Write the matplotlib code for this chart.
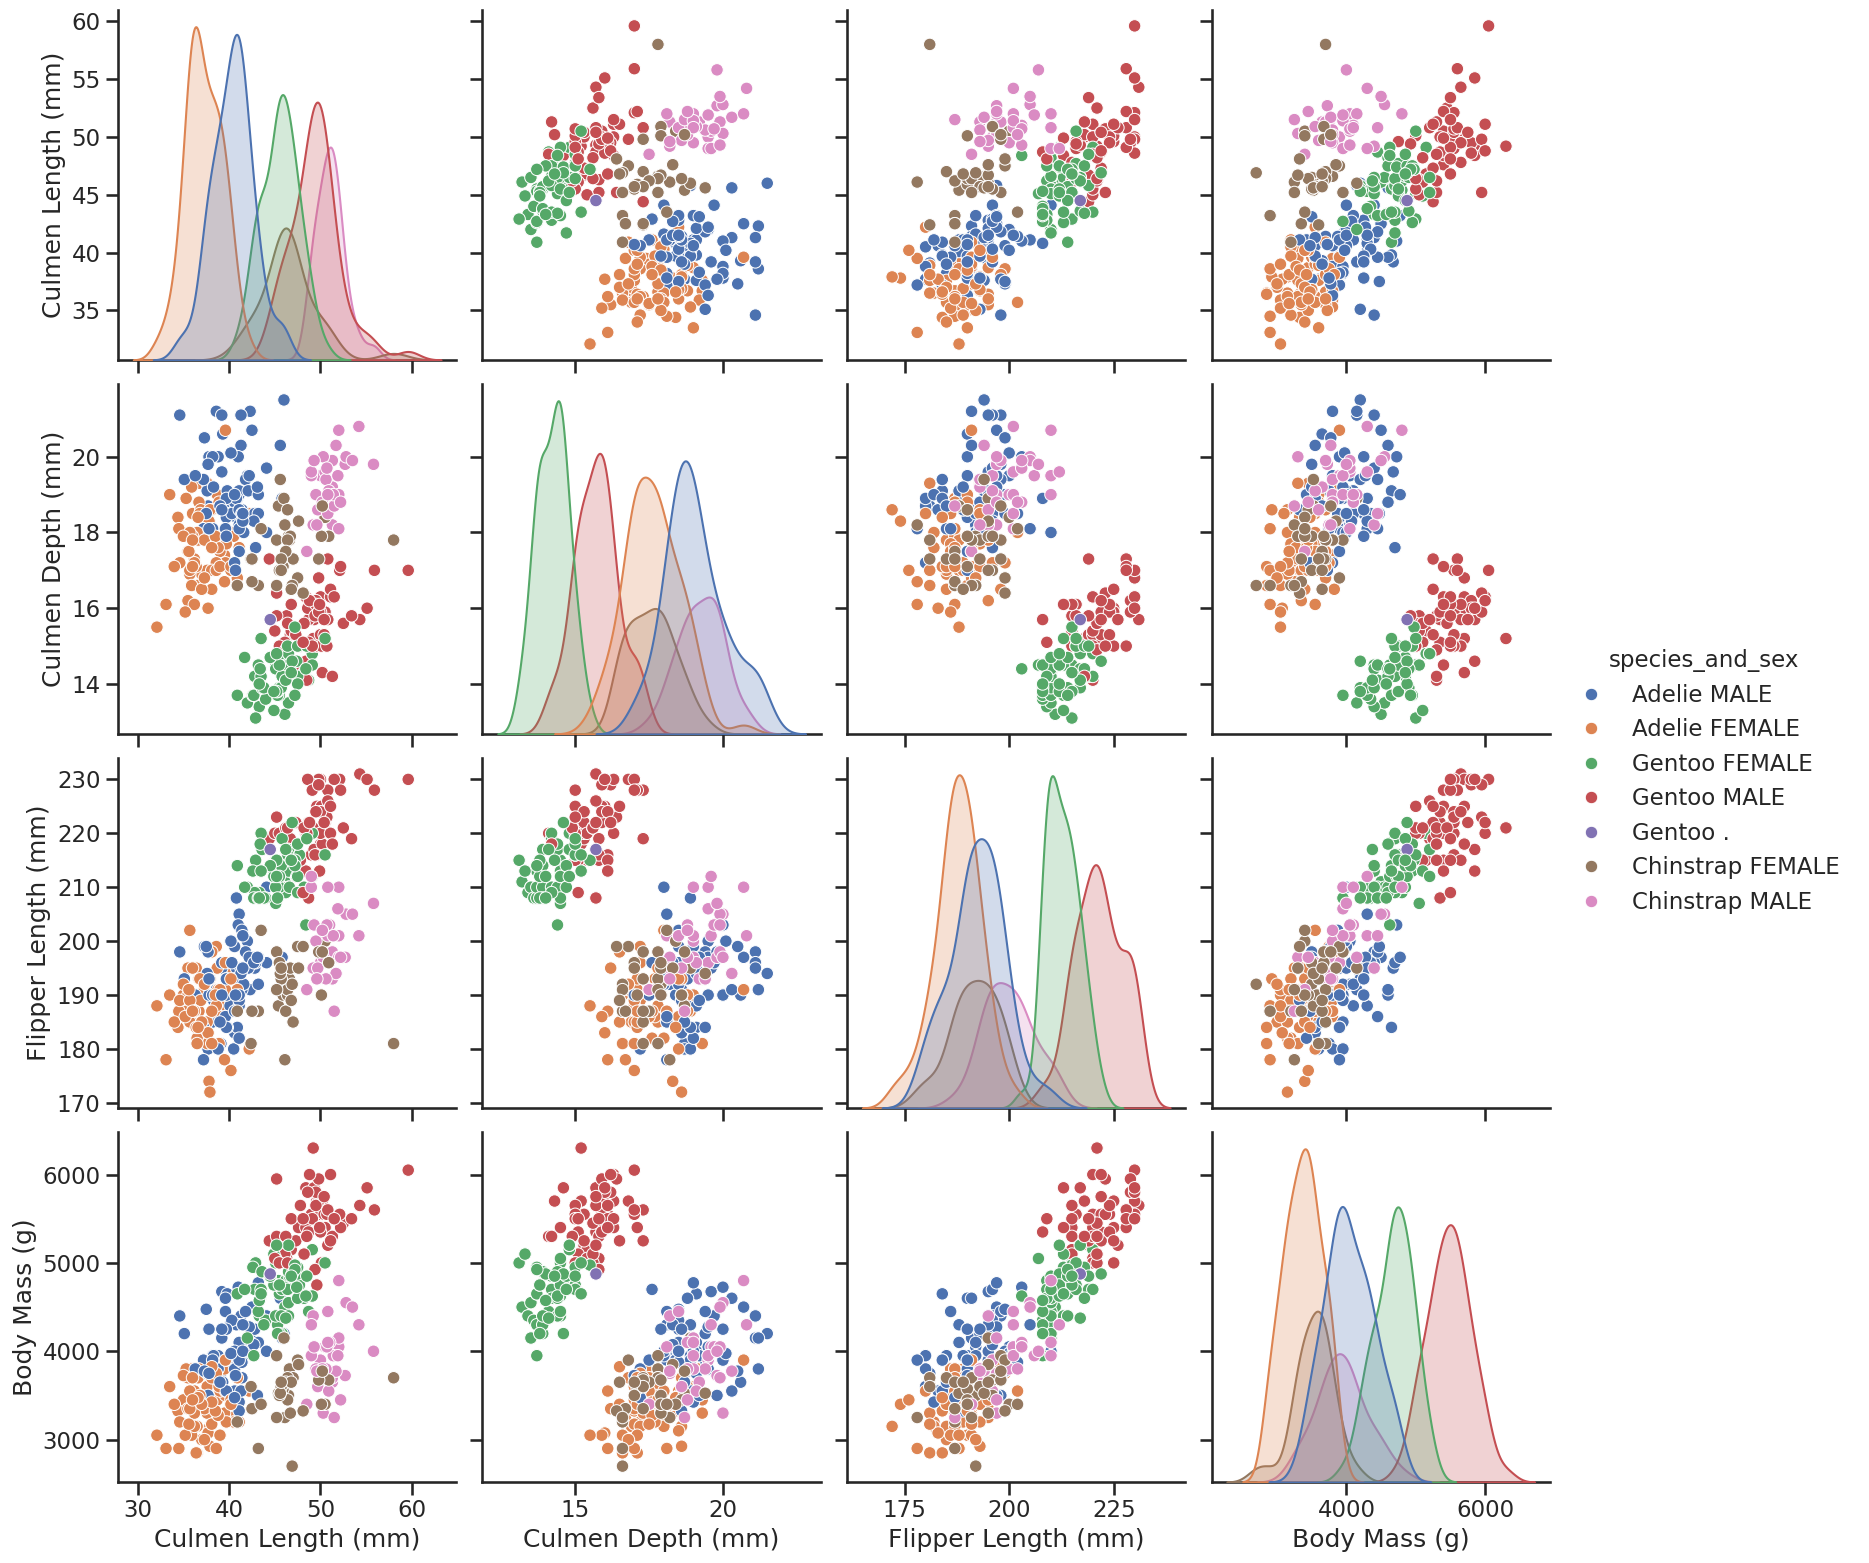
import pandas as pd
import seaborn as sns
import matplotlib
matplotlib.use("Agg")
import matplotlib.pyplot as plt

# Palmer penguins, rows with a recorded sex, in file order
adelie_length = [
    39.1, 39.5, 40.3, 36.7, 39.3, 38.9, 39.2, 41.1, 38.6, 34.6,
    36.6, 38.7, 42.5, 34.4, 46.0, 37.8, 37.7, 35.9, 38.2, 38.8,
    35.3, 40.6, 40.5, 37.9, 40.5, 39.5, 37.2, 39.5, 40.9, 36.4,
    39.2, 38.8, 42.2, 37.6, 39.8, 36.5, 40.8, 36.0, 44.1, 37.0,
    39.6, 41.1, 36.0, 42.3, 39.6, 40.1, 35.0, 42.0, 34.5, 41.4,
    39.0, 40.6, 36.5, 37.6, 35.7, 41.3, 37.6, 41.1, 36.4, 41.6,
    35.5, 41.1, 35.9, 41.8, 33.5, 39.7, 39.6, 45.8, 35.5, 42.8,
    40.9, 37.2, 36.2, 42.1, 34.6, 42.9, 36.7, 35.1, 37.3, 41.3,
    36.3, 36.9, 38.3, 38.9, 35.7, 41.1, 34.0, 39.6, 36.2, 40.8,
    38.1, 40.3, 33.1, 43.2, 35.0, 41.0, 37.7, 37.8, 37.9, 39.7,
    38.6, 38.2, 38.1, 43.2, 38.1, 45.6, 39.7, 42.2, 39.6, 42.7,
    38.6, 37.3, 35.7, 41.1, 36.2, 37.7, 40.2, 41.4, 35.2, 40.6,
    38.8, 41.5, 39.0, 44.1, 38.5, 43.1, 36.8, 37.5, 38.1, 41.1,
    35.6, 40.2, 37.0, 39.7, 40.2, 40.6, 32.1, 40.7, 37.3, 39.0,
    39.2, 36.6, 36.0, 37.8, 36.0, 41.5]
adelie_depth = [
    18.7, 17.4, 18.0, 19.3, 20.6, 17.8, 19.6, 17.6, 21.2, 21.1,
    17.8, 19.0, 20.7, 18.4, 21.5, 18.3, 18.7, 19.2, 18.1, 17.2,
    18.9, 18.6, 17.9, 18.6, 18.9, 16.7, 18.1, 17.8, 18.9, 17.0,
    21.1, 20.0, 18.5, 19.3, 19.1, 18.0, 18.4, 18.5, 19.7, 16.9,
    18.8, 19.0, 17.9, 21.2, 17.7, 18.9, 17.9, 19.5, 18.1, 18.6,
    17.5, 18.8, 16.6, 19.1, 16.9, 21.1, 17.0, 18.2, 17.1, 18.0,
    16.2, 19.1, 16.6, 19.4, 19.0, 18.4, 17.2, 18.9, 17.5, 18.5,
    16.8, 19.4, 16.1, 19.1, 17.2, 17.6, 18.8, 19.4, 17.8, 20.3,
    19.5, 18.6, 19.2, 18.8, 18.0, 18.1, 17.1, 18.1, 17.3, 18.9,
    18.6, 18.5, 16.1, 18.5, 17.9, 20.0, 16.0, 20.0, 18.6, 18.9,
    17.2, 20.0, 17.0, 19.0, 16.5, 20.3, 17.7, 19.5, 20.7, 18.3,
    17.0, 20.5, 17.0, 18.6, 17.2, 19.8, 17.0, 18.5, 15.9, 19.0,
    17.6, 18.3, 17.1, 18.0, 17.9, 19.2, 18.5, 18.5, 17.6, 17.5,
    17.5, 20.1, 16.5, 17.9, 17.1, 17.2, 15.5, 17.0, 16.8, 18.7,
    18.6, 18.4, 17.8, 18.1, 17.1, 18.5]
adelie_flipper = [
    181, 186, 195, 193, 190, 181, 195, 182, 191, 198,
    185, 195, 197, 184, 194, 174, 180, 189, 185, 180,
    187, 183, 187, 172, 180, 178, 178, 188, 184, 195,
    196, 190, 180, 181, 184, 182, 195, 186, 196, 185,
    190, 182, 190, 191, 186, 188, 190, 200, 187, 191,
    186, 193, 181, 194, 185, 195, 185, 192, 184, 192,
    195, 188, 190, 198, 190, 190, 196, 197, 190, 195,
    191, 184, 187, 195, 189, 196, 187, 193, 191, 194,
    190, 189, 189, 190, 202, 205, 185, 186, 187, 208,
    190, 196, 178, 192, 192, 203, 183, 190, 193, 184,
    199, 190, 181, 197, 198, 191, 193, 197, 191, 196,
    188, 199, 189, 189, 187, 198, 176, 202, 186, 199,
    191, 195, 191, 210, 190, 197, 193, 199, 187, 190,
    191, 200, 185, 193, 193, 187, 188, 190, 192, 185,
    190, 184, 195, 193, 187, 201]
adelie_mass = [
    3750, 3800, 3250, 3450, 3650, 3625, 4675, 3200, 3800, 4400,
    3700, 3450, 4500, 3325, 4200, 3400, 3600, 3800, 3950, 3800,
    3800, 3550, 3200, 3150, 3950, 3250, 3900, 3300, 3900, 3325,
    4150, 3950, 3550, 3300, 4650, 3150, 3900, 3100, 4400, 3000,
    4600, 3425, 3450, 4150, 3500, 4300, 3450, 4050, 2900, 3700,
    3550, 3800, 2850, 3750, 3150, 4400, 3600, 4050, 2850, 3950,
    3350, 4100, 3050, 4450, 3600, 3900, 3550, 4150, 3700, 4250,
    3700, 3900, 3550, 4000, 3200, 4700, 3800, 4200, 3350, 3550,
    3800, 3500, 3950, 3600, 3550, 4300, 3400, 4450, 3300, 4300,
    3700, 4350, 2900, 4100, 3725, 4725, 3075, 4250, 2925, 3550,
    3750, 3900, 3175, 4775, 3825, 4600, 3200, 4275, 3900, 4075,
    2900, 3775, 3350, 3325, 3150, 3500, 3450, 3875, 3050, 4000,
    3275, 4300, 3050, 4000, 3325, 3500, 3500, 4475, 3425, 3900,
    3175, 3975, 3400, 4250, 3400, 3475, 3050, 3725, 3000, 3650,
    4250, 3475, 3450, 3750, 3700, 4000]
adelie_sex = ("MFFFMFMFMM" "FFMFMFMFMM" "FMFFMFMFMF" "MMFFMFMFMF"
              "MMFMFMFMFM" "FMFMFMFMFM" "FMFMFMFMFM" "FMFMFMFMFM"
              "MFMFFMFMFM" "FMFMFMFMFM" "FMFMFMFMFM" "FMFMFMFMFM"
              "FMFMFMFMFM" "FMFMFMFMFM" "MFFMFM")

gentoo_length = [
    46.1, 50.0, 48.7, 50.0, 47.6, 46.5, 45.4, 46.7, 43.3, 46.8,
    40.9, 49.0, 45.5, 48.4, 45.8, 49.3, 42.0, 49.2, 46.2, 48.7,
    50.2, 45.1, 46.5, 46.3, 42.9, 46.1, 47.8, 48.2, 50.0, 47.3,
    42.8, 45.1, 59.6, 49.1, 48.4, 42.6, 44.4, 44.0, 48.7, 42.7,
    49.6, 45.3, 49.6, 50.5, 43.6, 45.5, 50.5, 44.9, 45.2, 46.6,
    48.5, 45.1, 50.1, 46.5, 45.0, 43.8, 45.5, 43.2, 50.4, 45.3,
    46.2, 45.7, 54.3, 45.8, 49.8, 49.5, 43.5, 50.7, 47.7, 46.4,
    48.2, 46.5, 46.4, 48.6, 47.5, 51.1, 45.2, 45.2, 49.1, 52.5,
    47.4, 50.0, 44.9, 50.8, 43.4, 51.3, 47.5, 52.1, 47.5, 52.2,
    45.5, 49.5, 44.5, 50.8, 49.4, 46.9, 48.4, 51.1, 48.5, 55.9,
    47.2, 49.1, 46.8, 41.7, 53.4, 43.3, 48.1, 50.5, 49.8, 43.5,
    51.5, 46.2, 55.1, 44.5, 48.8, 47.2, 46.8, 50.4, 45.2, 49.9]
gentoo_depth = [
    13.2, 16.3, 14.1, 15.2, 14.5, 13.5, 14.6, 15.3, 13.4, 15.4,
    13.7, 16.1, 13.7, 14.6, 14.6, 15.7, 13.5, 15.2, 14.5, 15.1,
    14.3, 14.5, 14.5, 15.8, 13.1, 15.1, 15.0, 14.3, 15.3, 15.3,
    14.2, 14.5, 17.0, 14.8, 16.3, 13.7, 17.3, 13.6, 15.7, 13.7,
    16.0, 13.7, 15.0, 15.9, 13.9, 13.9, 15.9, 13.3, 15.8, 14.2,
    14.1, 14.4, 15.0, 14.4, 15.4, 13.9, 15.0, 14.5, 15.3, 13.8,
    14.9, 13.9, 15.7, 14.2, 16.8, 16.2, 14.2, 15.0, 15.0, 15.6,
    15.6, 14.8, 15.0, 16.0, 14.2, 16.3, 13.8, 16.4, 14.5, 15.6,
    14.6, 15.9, 13.8, 17.3, 14.4, 14.2, 14.0, 17.0, 15.0, 17.1,
    14.5, 16.1, 14.7, 15.7, 15.8, 14.6, 14.4, 16.5, 15.0, 17.0,
    15.5, 15.0, 16.1, 14.7, 15.8, 14.0, 15.1, 15.2, 15.9, 15.2,
    16.3, 14.1, 16.0, 15.7, 16.2, 13.7, 14.3, 15.7, 14.8, 16.1]
gentoo_flipper = [
    211, 230, 210, 218, 215, 210, 211, 219, 209, 215,
    214, 216, 214, 213, 210, 217, 210, 221, 209, 222,
    218, 215, 213, 215, 215, 215, 215, 210, 220, 222,
    209, 207, 230, 220, 220, 213, 219, 208, 208, 208,
    225, 210, 216, 222, 217, 210, 225, 213, 215, 210,
    220, 210, 225, 217, 220, 208, 220, 208, 224, 208,
    221, 214, 231, 219, 230, 229, 220, 223, 216, 221,
    221, 217, 216, 230, 209, 220, 215, 223, 212, 221,
    212, 224, 212, 228, 218, 218, 212, 230, 218, 228,
    212, 224, 214, 226, 216, 222, 203, 225, 219, 228,
    215, 228, 215, 210, 219, 208, 209, 216, 229, 213,
    230, 217, 230, 217, 222, 214, 215, 222, 212, 213]
gentoo_mass = [
    4500, 5700, 4450, 5700, 5400, 4550, 4800, 5200, 4400, 5150,
    4650, 5550, 4650, 5850, 4200, 5850, 4150, 6300, 4800, 5350,
    5700, 5000, 4400, 5050, 5000, 5100, 5650, 4600, 5550, 5250,
    4700, 5050, 6050, 5150, 5400, 4950, 5250, 4350, 5350, 3950,
    5700, 4300, 4750, 5550, 4900, 4200, 5400, 5100, 5300, 4850,
    5300, 4400, 5000, 4900, 5050, 4300, 5000, 4450, 5550, 4200,
    5300, 4400, 5650, 4700, 5700, 5800, 4700, 5550, 4750, 5000,
    5100, 5200, 4700, 5800, 4600, 6000, 4750, 5950, 4625, 5450,
    4725, 5350, 4750, 5600, 4600, 5300, 4875, 5550, 4950, 5400,
    4750, 5650, 4850, 5200, 4925, 4875, 4625, 5250, 4850, 5600,
    4975, 5500, 5500, 4700, 5500, 4575, 5500, 5000, 5950, 4650,
    5500, 4375, 5850, 4875, 6000, 4925, 4850, 5750, 5200, 5400]
gentoo_sex = ("FMFMMFFMFM" "FMFMFMFMFM" "MFFMFMMFMM" "FFMFMFMFMF"
              "MFMMFFMFMF" "MFMFMFMFMF" "MFMFMMFMFM" "MFFMFMFMFM"
              "FMFMFMFMFM" "FMFMMFFMFM" "FMMFMFMFMF" "MFM.MFFMFM")

chinstrap_length = [
    46.5, 50.0, 51.3, 45.4, 52.7, 45.2, 46.1, 51.3, 46.0, 51.3,
    46.6, 51.7, 47.0, 52.0, 45.9, 50.5, 50.3, 58.0, 46.4, 49.2,
    42.4, 48.5, 43.2, 50.6, 46.7, 52.0, 50.5, 49.5, 46.4, 52.8,
    40.9, 54.2, 42.5, 51.0, 49.7, 47.5, 47.6, 52.0, 46.9, 53.5,
    49.0, 46.2, 50.9, 45.5, 50.9, 50.8, 50.1, 49.0, 51.5, 49.8,
    48.1, 51.4, 45.7, 50.7, 42.5, 52.2, 45.2, 49.3, 50.2, 45.6,
    51.9, 46.8, 45.7, 55.8, 43.5, 49.6, 50.8, 50.2]
chinstrap_depth = [
    17.9, 19.5, 19.2, 18.7, 19.8, 17.8, 18.2, 18.2, 18.9, 19.9,
    17.8, 20.3, 17.3, 18.1, 17.1, 19.6, 20.0, 17.8, 18.6, 18.2,
    17.3, 17.5, 16.6, 19.4, 17.9, 19.0, 18.4, 19.0, 17.8, 20.0,
    16.6, 20.8, 16.7, 18.8, 18.6, 16.8, 18.3, 20.7, 16.6, 19.9,
    19.5, 17.5, 19.1, 17.0, 17.9, 18.5, 17.9, 19.6, 18.7, 17.3,
    16.4, 19.0, 17.3, 19.7, 17.3, 18.8, 16.6, 19.9, 18.8, 19.4,
    19.5, 16.5, 17.0, 19.8, 18.1, 18.2, 19.0, 18.7]
chinstrap_flipper = [
    192, 196, 193, 188, 197, 198, 178, 197, 195, 198,
    193, 194, 185, 201, 190, 201, 197, 181, 190, 195,
    181, 191, 187, 193, 195, 197, 200, 200, 191, 205,
    187, 201, 187, 203, 195, 199, 195, 210, 192, 205,
    210, 187, 196, 196, 196, 201, 190, 212, 187, 198,
    199, 201, 193, 203, 187, 197, 191, 203, 202, 194,
    206, 189, 195, 207, 202, 193, 210, 198]
chinstrap_mass = [
    3500, 3900, 3650, 3525, 3725, 3950, 3250, 3750, 4150, 3700,
    3800, 3775, 3700, 4050, 3575, 4050, 3300, 3700, 3450, 4400,
    3600, 3400, 2900, 3800, 3300, 4150, 3400, 3800, 3700, 4550,
    3200, 4300, 3350, 4100, 3600, 3900, 3850, 4800, 2700, 4500,
    3950, 3650, 3550, 3500, 3675, 4450, 3400, 4300, 3250, 3675,
    3325, 3950, 3600, 4050, 3350, 3450, 3250, 4050, 3800, 3525,
    3950, 3650, 3650, 4000, 3400, 3775, 4100, 3775]
chinstrap_sex = ("FMMFMFFMFM" "FMFMFMMFFM" "FMFMFMFMFM" "FMFMMFFMFM"
                 "MFMFFMFMMF" "FMFMFMFMMF" "MFFMFMMF")

hue_order = ["Adelie MALE", "Adelie FEMALE", "Gentoo FEMALE", "Gentoo MALE",
             "Gentoo .", "Chinstrap FEMALE", "Chinstrap MALE"]
sex_names = {"M": "MALE", "F": "FEMALE", ".": "."}


def species_frame(name, length, depth, flipper, mass, sex):
    """Build one species' rows with the combined species_and_sex label."""
    return pd.DataFrame({
        "Culmen Length (mm)": length,
        "Culmen Depth (mm)": depth,
        "Flipper Length (mm)": flipper,
        "Body Mass (g)": mass,
        "species_and_sex": [name + " " + sex_names[s] for s in sex],
    })


df = pd.concat([
    species_frame("Adelie", adelie_length, adelie_depth, adelie_flipper,
                  adelie_mass, adelie_sex),
    species_frame("Gentoo", gentoo_length, gentoo_depth, gentoo_flipper,
                  gentoo_mass, gentoo_sex),
    species_frame("Chinstrap", chinstrap_length, chinstrap_depth,
                  chinstrap_flipper, chinstrap_mass, chinstrap_sex),
], ignore_index=True)

sns.set_theme(style="ticks", context="talk")
g = sns.pairplot(df, hue="species_and_sex", hue_order=hue_order, height=4)

fig = g.figure
fig.set_size_inches(18.69, 15.63)
fig.subplots_adjust(left=0.0631, right=0.8293, bottom=0.0518, top=0.9936,
                    wspace=0.077, hspace=0.069)
# title drawn at the same size as the entries
sns.move_legend(g, "center left", bbox_to_anchor=(0.8277, 0.5),
                frameon=False, title_fontsize=16.5)

fig.savefig("out.png", dpi=100)
